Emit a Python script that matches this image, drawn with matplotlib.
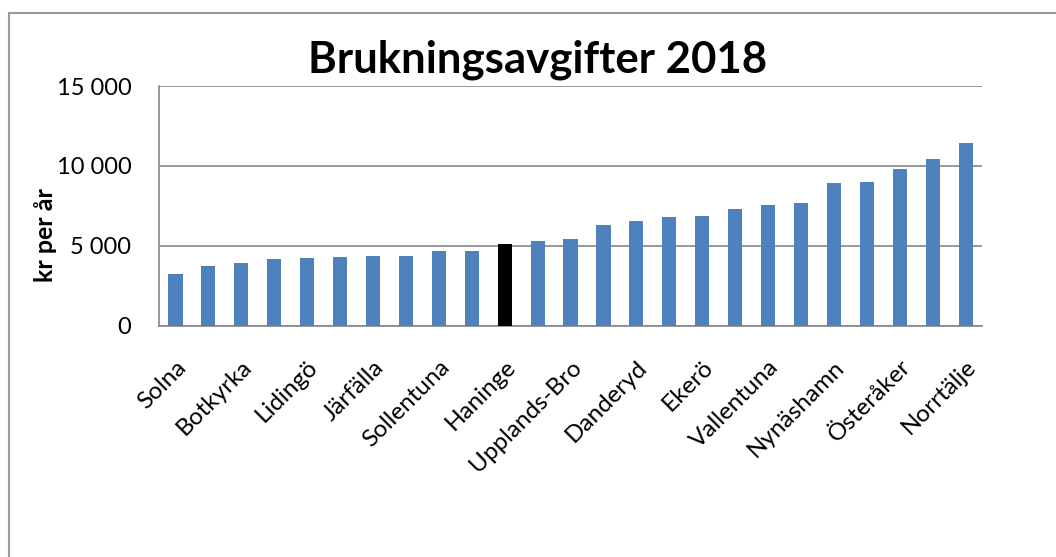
import numpy as np
import matplotlib.pyplot as plt
from matplotlib.lines import Line2D

plt.rcParams['font.family'] = ['Lato', 'DejaVu Sans']

# data
kommuner = ['Solna', '', 'Botkyrka', '', 'Lidingö', '', 'Järfälla', '',
            'Sollentuna', '', 'Haninge', '', 'Upplands-Bro', '', 'Danderyd', '',
            'Ekerö', '', 'Vallentuna', '', 'Nynäshamn', '', 'Österåker', '',
            'Norrtälje']
avgift = [3230, 3730, 3920, 4170, 4230, 4290, 4360, 4360, 4670, 4670,
          5100, 5290, 5420, 6290, 6540, 6790, 6860, 7290, 7540, 7670,
          8920, 8980, 9790, 10420, 11420]
markerad = 'Haninge'

BLUE = '#4F81BD'
GRID = '#868686'

fig = plt.figure(figsize=(10.56, 5.57), dpi=100, facecolor='white')
ax = fig.add_axes([0.1506, 0.4153, 0.7794, 0.4303])

x = np.arange(len(avgift))
colors = ['black' if k == markerad else BLUE for k in kommuner]
ax.bar(x, avgift, width=0.43, color=colors, zorder=3)

ax.set_xlim(-0.5, len(avgift) - 0.5)
ax.set_ylim(0, 15000)
ax.set_yticks([0, 5000, 10000, 15000])
ax.set_yticklabels([f'{v:,}'.replace(',', ' ') for v in [0, 5000, 10000, 15000]])
ax.yaxis.grid(True, color=GRID, linewidth=1.2, zorder=0)
ax.tick_params(axis='y', length=0, labelsize=17, pad=20)
ax.set_xticks(x)
ax.set_xticklabels(kommuner, rotation=45, ha='right', rotation_mode='anchor',
                   fontsize=17.5)
ax.tick_params(axis='x', length=0, pad=22)

for s in ['top', 'right']:
    ax.spines[s].set_visible(False)
for s in ['left', 'bottom']:
    ax.spines[s].set_color(GRID)
    ax.spines[s].set_linewidth(1.2)

ax.set_ylabel('kr per år', fontsize=18, fontweight='bold')
ax.yaxis.set_label_coords(-0.124, 0.38)

fig.text(0.509, 1 - 73 / 557, 'Brukningsavgifter 2018', fontsize=31.5,
         fontweight='bold', ha='center', va='baseline')

# chart frame (top and left edges visible)
fig.add_artist(Line2D([9 / 1056, 1.0], [1 - 13 / 557, 1 - 13 / 557],
                      color='#999999', linewidth=1.5))
fig.add_artist(Line2D([9 / 1056, 9 / 1056], [0.0, 1 - 13 / 557],
                      color='#999999', linewidth=1.5))

fig.savefig('out.png', dpi=100, facecolor='white')
